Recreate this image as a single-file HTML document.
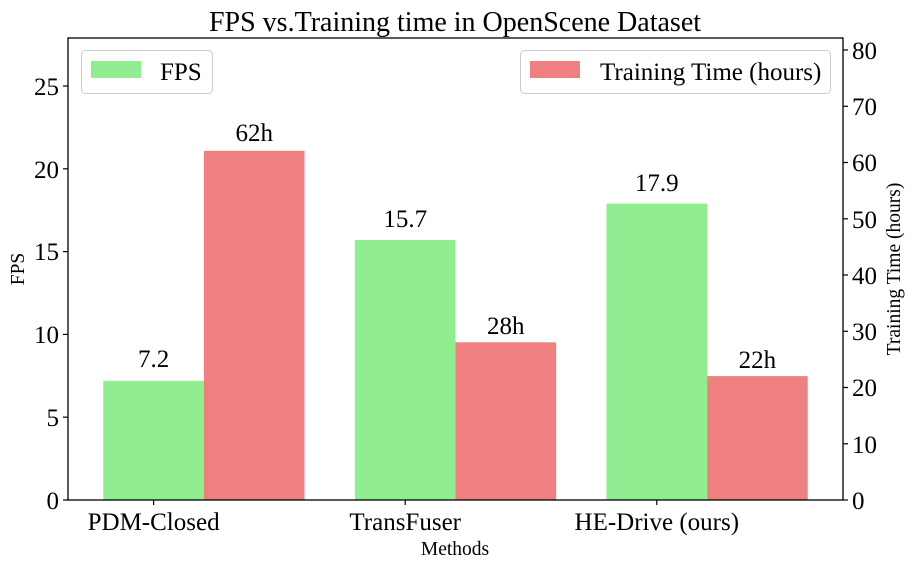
<!DOCTYPE html>
<html><head><style>body{margin:0;background:#fff}svg{display:block}</style></head><body>
<svg width="911" height="567" xmlns="http://www.w3.org/2000/svg" font-family="Liberation Serif, serif" fill="#000">
<text x="455" y="31" font-size="28" text-anchor="middle">FPS vs.Training time in OpenScene Dataset</text>
<g>
<rect x="103.3" y="380.8" width="100.6" height="119.2" fill="#90ee90"/>
<rect x="203.9" y="150.8" width="100.6" height="349.2" fill="#f08080"/>
<rect x="354.9" y="240" width="100.6" height="260" fill="#90ee90"/>
<rect x="455.5" y="342.3" width="100.6" height="157.7" fill="#f08080"/>
<rect x="606.5" y="203.6" width="100.6" height="296.4" fill="#90ee90"/>
<rect x="707.1" y="376.1" width="100.6" height="123.9" fill="#f08080"/>
</g>
<g font-size="25" text-anchor="middle">
<text x="153.6" y="367">7.2</text>
<text x="254.2" y="141">62h</text>
<text x="405.2" y="227">15.7</text>
<text x="505.8" y="334">28h</text>
<text x="656.8" y="191">17.9</text>
<text x="757.4" y="368">22h</text>
</g>
<rect x="68" y="38" width="775" height="462" fill="none" stroke="#000" stroke-width="1.3"/>
<g stroke="#000" stroke-width="1.2">
<line x1="63" x2="68" y1="500" y2="500"/><line x1="63" x2="68" y1="417.2" y2="417.2"/><line x1="63" x2="68" y1="334.4" y2="334.4"/><line x1="63" x2="68" y1="251.6" y2="251.6"/><line x1="63" x2="68" y1="168.8" y2="168.8"/><line x1="63" x2="68" y1="86" y2="86"/>
<line x1="843" x2="848" y1="500" y2="500"/><line x1="843" x2="848" y1="443.8" y2="443.8"/><line x1="843" x2="848" y1="387.5" y2="387.5"/><line x1="843" x2="848" y1="331.3" y2="331.3"/><line x1="843" x2="848" y1="275" y2="275"/><line x1="843" x2="848" y1="218.8" y2="218.8"/><line x1="843" x2="848" y1="162.5" y2="162.5"/><line x1="843" x2="848" y1="106.3" y2="106.3"/><line x1="843" x2="848" y1="50" y2="50"/>
<line x1="153.6" x2="153.6" y1="500" y2="505"/><line x1="405.2" x2="405.2" y1="500" y2="505"/><line x1="656.8" x2="656.8" y1="500" y2="505"/>
</g>
<g font-size="25" text-anchor="end">
<text x="59" y="509">0</text><text x="59" y="426">5</text><text x="59" y="343">10</text><text x="59" y="260">15</text><text x="59" y="178">20</text><text x="59" y="95">25</text>
</g>
<g font-size="25">
<text x="852" y="509">0</text><text x="852" y="453">10</text><text x="852" y="396">20</text><text x="852" y="340">30</text><text x="852" y="284">40</text><text x="852" y="228">50</text><text x="852" y="171">60</text><text x="852" y="115">70</text><text x="852" y="59">80</text>
</g>
<g font-size="25" text-anchor="middle">
<text x="153.6" y="530">PDM-Closed</text><text x="405.2" y="530">TransFuser</text><text x="656.8" y="530">HE-Drive (ours)</text>
</g>
<text x="455" y="555" font-size="19.5" text-anchor="middle">Methods</text>
<text transform="translate(24,269) rotate(-90)" font-size="19.5" text-anchor="middle">FPS</text>
<text transform="translate(900,269) rotate(-90)" font-size="19.5" text-anchor="middle">Training Time (hours)</text>
<rect x="81.5" y="50.5" width="131" height="43" rx="4" fill="#fff" fill-opacity="0.8" stroke="#ccc"/>
<rect x="91" y="61" width="50" height="17" fill="#90ee90"/>
<text x="160" y="80" font-size="25">FPS</text>
<rect x="520.5" y="50.5" width="310" height="43" rx="4" fill="#fff" fill-opacity="0.8" stroke="#ccc"/>
<rect x="530" y="61" width="50" height="17" fill="#f08080"/>
<text x="600" y="80" font-size="25">Training Time (hours)</text>
</svg>
</body></html>
